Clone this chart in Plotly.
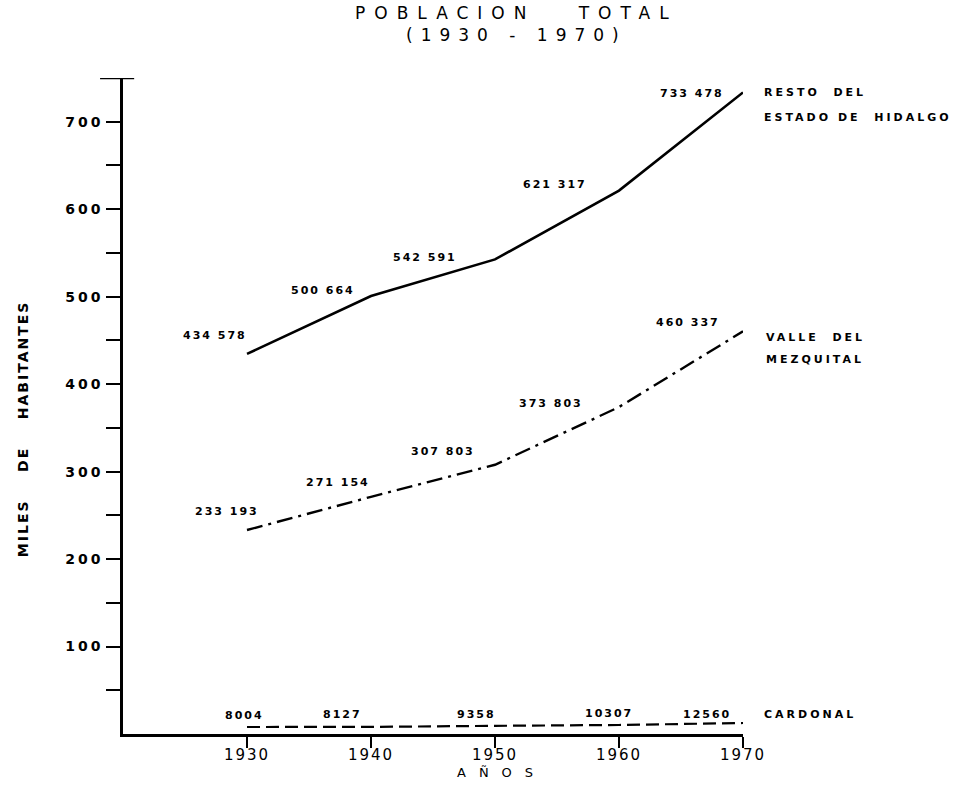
import plotly.graph_objects as go

# ---- data (population, inhabitants) ----
years = [1930, 1940, 1950, 1960, 1970]
resto_hidalgo = [434578, 500664, 542591, 621317, 733478]
valle_mezquital = [233193, 271154, 307803, 373803, 460337]
cardonal = [8004, 8127, 9358, 10307, 12560]

y_tick_vals = [100, 200, 300, 400, 500, 600, 700]
y_tick_text = ["100", "200", "300", "400", "500", "600", "700"]
y_minor_vals = [50, 150, 250, 350, 450, 550, 650]
x_tick_vals = [1930, 1940, 1950, 1960, 1970]
x_tick_text = ["1930", "1940", "1950", "1960", "1970"]

# ---- label offsets (pixels, relative to each point) ----
resto_off = [(-32, 18), (-48, 6), (-70, 2), (-64, 6), (-51, -1)]
valle_off = [(-20, 19), (-33, 14), (-52, 13), (-68, 4), (-55, 9)]
card_off = [(-3, 12), (-29, 12), (-19, 11), (-10, 11), (-36, 9)]

FONT = "DejaVu Sans"


def sp(text, px):
    return f'<span style="letter-spacing:{px}px">{text}</span>'


def fmt_big(v):
    return f"{v:,}".replace(",", " ")


fig = go.Figure()

fig.add_trace(go.Scatter(
    x=years, y=[v / 1000 for v in resto_hidalgo], mode="lines",
    line=dict(color="black", width=2.6), name="Resto del Estado de Hidalgo",
    showlegend=False))
fig.add_trace(go.Scatter(
    x=years, y=[v / 1000 for v in valle_mezquital], mode="lines",
    line=dict(color="black", width=2.4, dash="16px,6px,3px,6px"),
    name="Valle del Mezquital", showlegend=False))
fig.add_trace(go.Scatter(
    x=years, y=[v / 1000 for v in cardonal], mode="lines",
    line=dict(color="black", width=2.2, dash="13px,6px"),
    name="Cardonal", showlegend=False))

annotations = []
lab_font = dict(family=FONT, size=11, color="black", weight="bold")

for series, offs, big in [(resto_hidalgo, resto_off, True),
                          (valle_mezquital, valle_off, True),
                          (cardonal, card_off, False)]:
    for yr, v, (dx, dy) in zip(years, series, offs):
        annotations.append(dict(
            x=yr, y=v / 1000, xref="x", yref="y",
            text=sp(fmt_big(v) if big else str(v), 2),
            showarrow=False, xshift=dx, yshift=dy,
            xanchor="center", yanchor="middle", font=lab_font))

name_font = dict(family=FONT, size=11, color="black", weight="bold")
series_names = [
    ("RESTO\u00a0 DEL", resto_hidalgo[-1], 19, 0),
    ("ESTADO DE\u00a0 HIDALGO", resto_hidalgo[-1], 19, -25),
    ("VALLE\u00a0 DEL", valle_mezquital[-1], 21, -6),
    ("MEZQUITAL", valle_mezquital[-1], 21, -28),
    ("CARDONAL", cardonal[-1], 19, 9),
]
for txt, v, dx, dy in series_names:
    annotations.append(dict(
        x=years[-1], y=v / 1000, xref="x", yref="y", text=sp(txt, 3),
        showarrow=False, xshift=dx, yshift=dy, xanchor="left",
        yanchor="middle", font=name_font))

# title (two lines)
title_font = dict(family=FONT, size=17, color="black")
annotations.append(dict(
    x=0.634, y=1.099, xref="paper", yref="paper",
    text=sp("POBLACION\u00a0\u00a0 TOTAL", 9), showarrow=False,
    xanchor="center", yanchor="middle", font=title_font))
annotations.append(dict(
    x=0.634, y=1.0655, xref="paper", yref="paper",
    text=sp("(1930 - 1970)", 8), showarrow=False,
    xanchor="center", yanchor="middle", font=title_font))

# axis titles
annotations.append(dict(
    x=-0.161, y=0.465, xref="paper", yref="paper",
    text=sp("MILES\u00a0\u00a0\u00a0 DE\u00a0\u00a0\u00a0 HABITANTES", 2),
    textangle=-90, showarrow=False, xanchor="center", yanchor="middle",
    font=dict(family=FONT, size=14, color="black", weight="bold")))
annotations.append(dict(
    x=1950.5, y=-0.058, xref="x", yref="paper", text=sp("AÑOS", 13),
    showarrow=False, xanchor="center", yanchor="middle",
    font=dict(family=FONT, size=13, color="black")))

fig.update_layout(
    width=956, height=785,
    margin=dict(l=123, r=213, t=78, b=51),
    paper_bgcolor="white", plot_bgcolor="white",
    annotations=annotations,
    xaxis=dict(range=[1920, 1970], showgrid=False, zeroline=False,
               showline=True, linecolor="black", linewidth=2.5,
               tickmode="array", tickvals=x_tick_vals,
               ticktext=[sp(t, 2) for t in x_tick_text],
               ticks="outside", ticklen=11, tickwidth=2, tickcolor="black",
               ticklabelstandoff=-6,
               tickfont=dict(family=FONT, size=15, color="black")),
    yaxis=dict(range=[0, 750], showgrid=False, zeroline=False,
               showline=True, linecolor="black", linewidth=2.5,
               tickmode="array", tickvals=y_tick_vals,
               ticktext=[sp(t, 3) for t in y_tick_text],
               ticks="outside", ticklen=14, tickwidth=2, tickcolor="black",
               tickfont=dict(family=FONT, size=14, color="black",
                             weight="bold"),
               minor=dict(tickmode="array", tickvals=y_minor_vals,
                          ticks="outside", ticklen=14, tickwidth=2,
                          tickcolor="black", showgrid=False)),
    shapes=[dict(type="line", xref="paper", yref="y",
                 x0=-0.037, x1=0.018, y0=750, y1=750,
                 line=dict(color="black", width=2.5))],
)

fig.write_html("out.html", config={"displayModeBar": False},
               post_script="document.body.style.margin='0';")
